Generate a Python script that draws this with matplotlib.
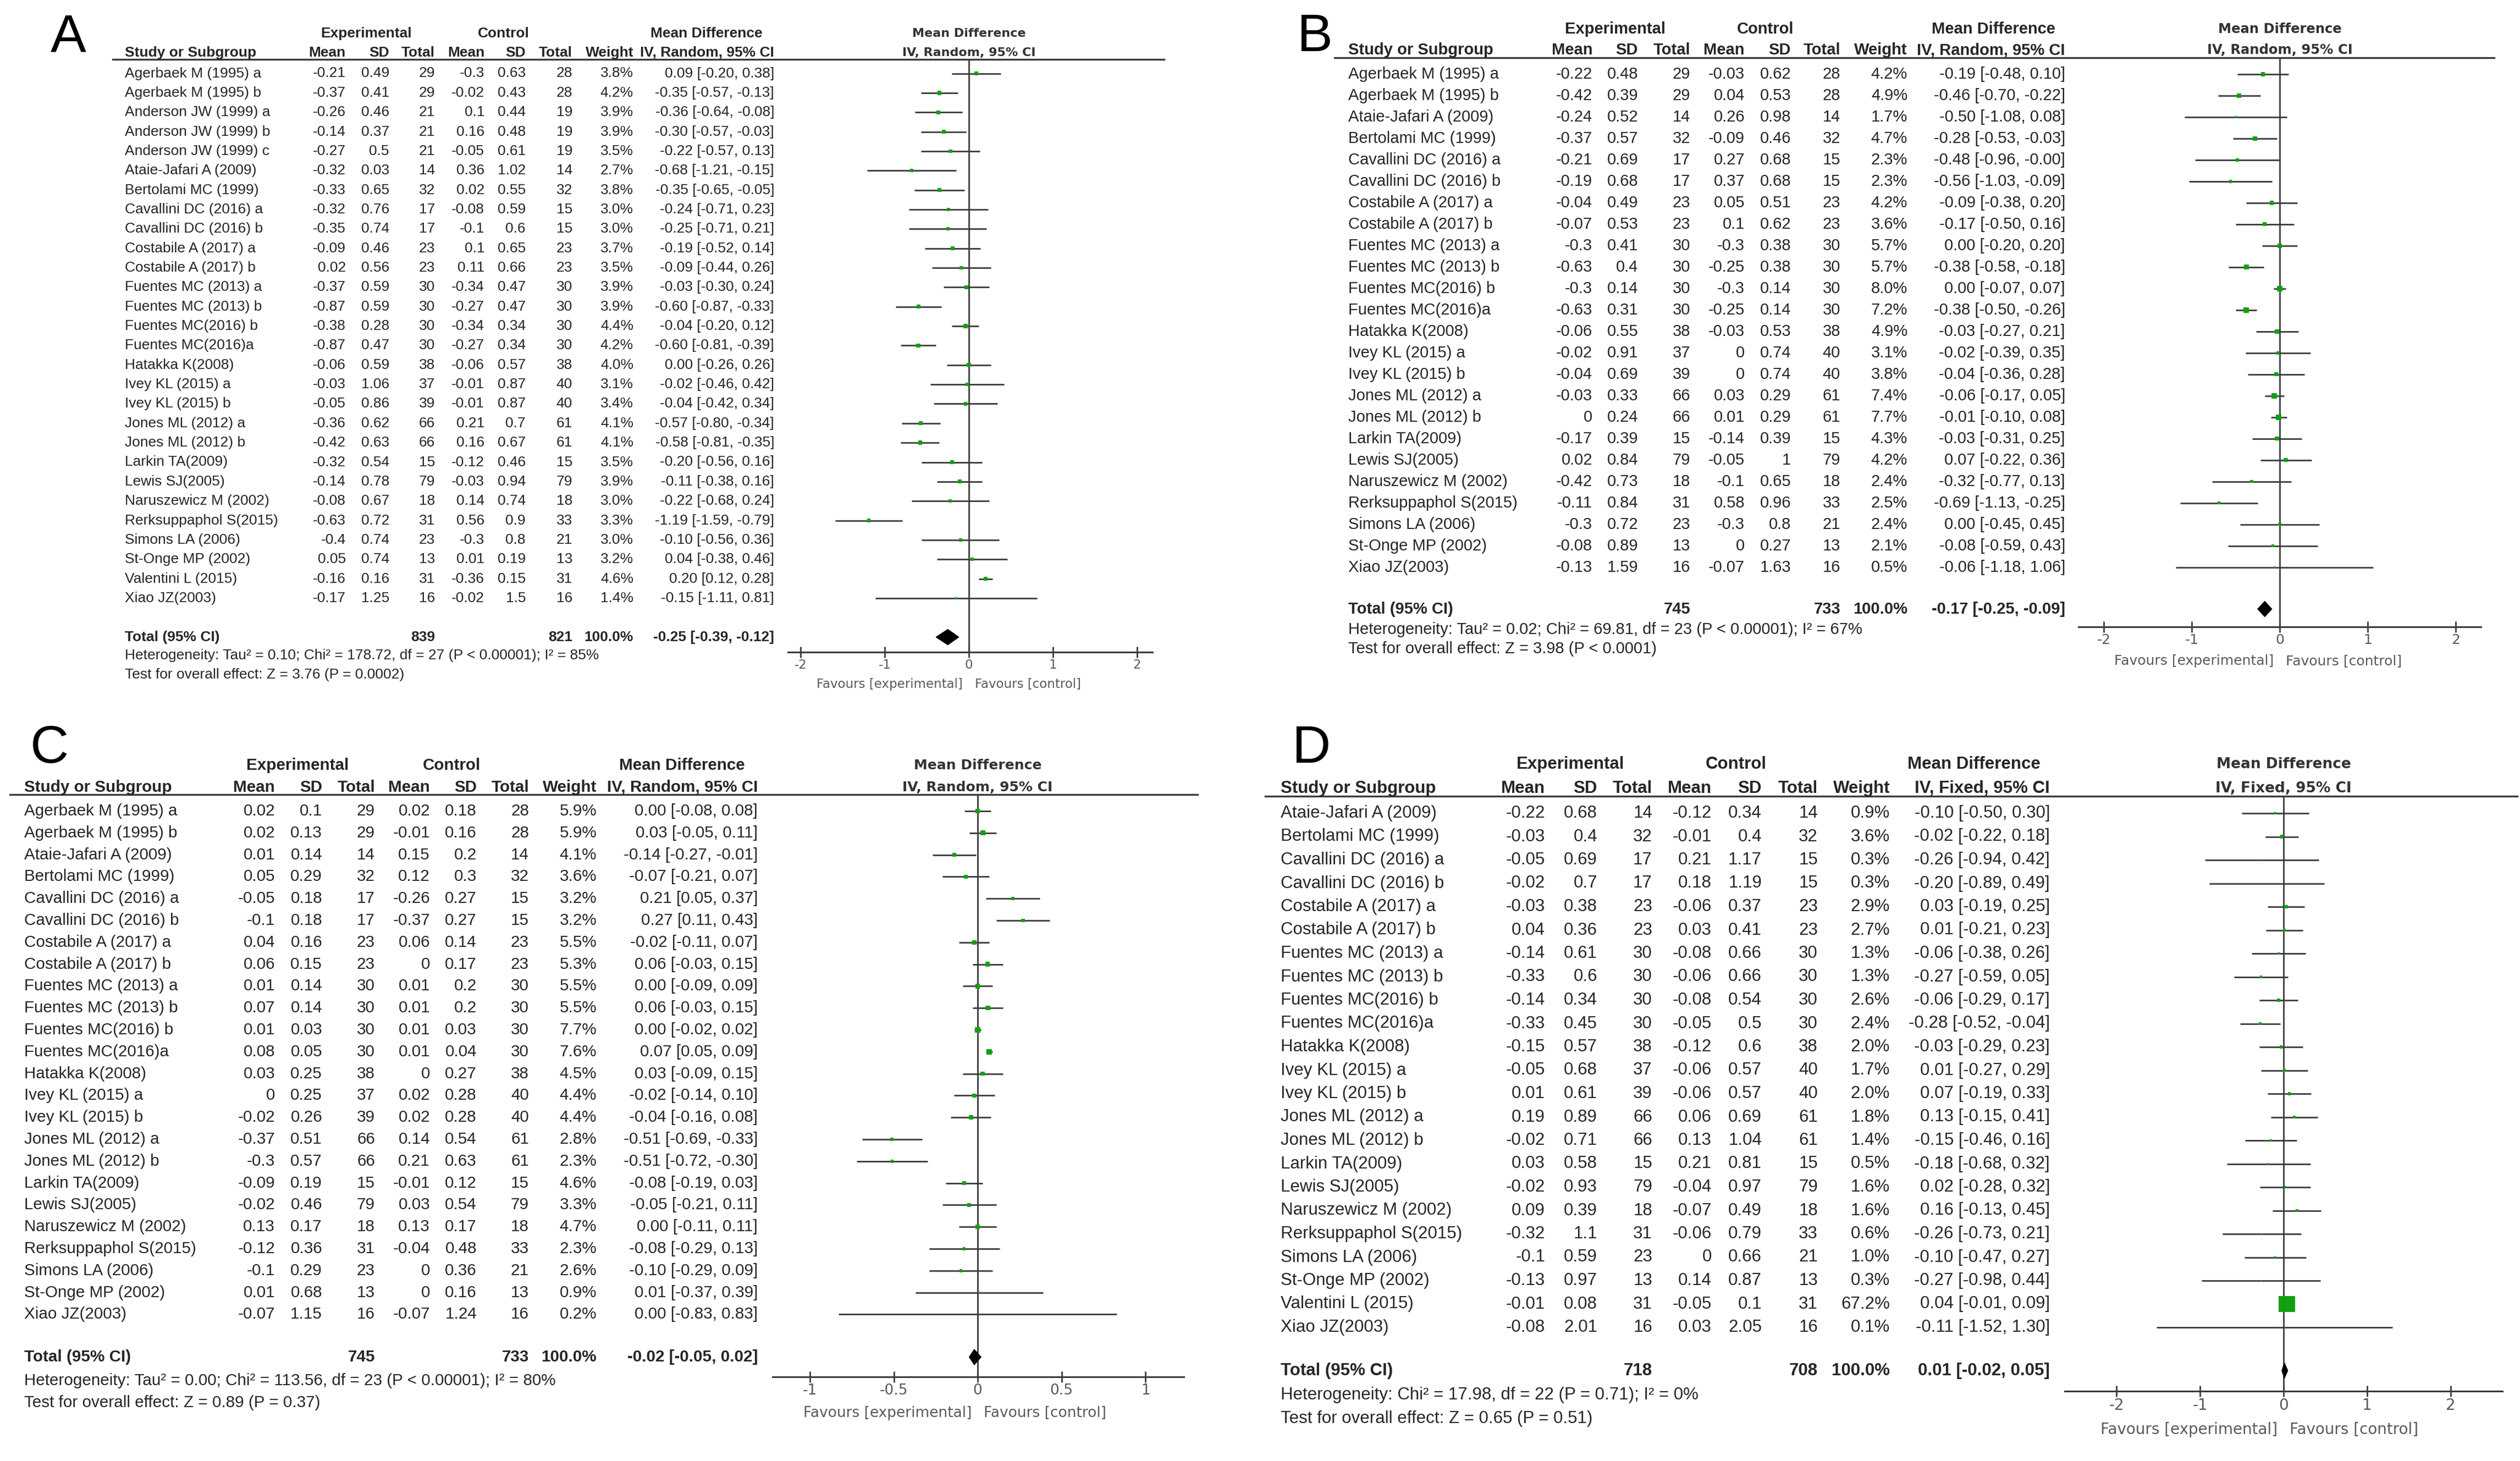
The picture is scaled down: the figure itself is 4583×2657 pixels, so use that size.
import matplotlib
matplotlib.use('Agg')
import matplotlib.pyplot as plt
from matplotlib.lines import Line2D
from matplotlib.patches import Polygon
from matplotlib.transforms import blended_transform_factory
import numpy as np

W, H = 4583, 2657
DPI = 100

# ------------------------------------------------------------------ data
# Panel A
a_studies = ["Agerbaek M (1995) a", "Agerbaek M (1995) b", "Anderson JW (1999) a", "Anderson JW (1999) b",
             "Anderson JW (1999) c", "Ataie-Jafari A (2009)", "Bertolami MC (1999)", "Cavallini DC (2016) a",
             "Cavallini DC (2016) b", "Costabile A (2017) a", "Costabile A (2017) b", "Fuentes MC (2013) a",
             "Fuentes MC (2013) b", "Fuentes MC(2016) b", "Fuentes MC(2016)a", "Hatakka K(2008)",
             "Ivey KL (2015) a", "Ivey KL (2015) b", "Jones ML (2012) a", "Jones ML (2012) b",
             "Larkin TA(2009)", "Lewis SJ(2005)", "Naruszewicz M (2002)", "Rerksuppaphol S(2015)",
             "Simons LA (2006)", "St-Onge MP (2002)", "Valentini L (2015)", "Xiao JZ(2003)"]
a_exp_mean = [-0.21, -0.37, -0.26, -0.14, -0.27, -0.32, -0.33, -0.32, -0.35, -0.09, 0.02, -0.37, -0.87, -0.38,
              -0.87, -0.06, -0.03, -0.05, -0.36, -0.42, -0.32, -0.14, -0.08, -0.63, -0.4, 0.05, -0.16, -0.17]
a_exp_sd = [0.49, 0.41, 0.46, 0.37, 0.5, 0.03, 0.65, 0.76, 0.74, 0.46, 0.56, 0.59, 0.59, 0.28,
            0.47, 0.59, 1.06, 0.86, 0.62, 0.63, 0.54, 0.78, 0.67, 0.72, 0.74, 0.74, 0.16, 1.25]
a_exp_n = [29, 29, 21, 21, 21, 14, 32, 17, 17, 23, 23, 30, 30, 30, 30, 38, 37, 39, 66, 66, 15, 79, 18, 31, 23, 13, 31, 16]
a_ctl_mean = [-0.3, -0.02, 0.1, 0.16, -0.05, 0.36, 0.02, -0.08, -0.1, 0.1, 0.11, -0.34, -0.27, -0.34,
              -0.27, -0.06, -0.01, -0.01, 0.21, 0.16, -0.12, -0.03, 0.14, 0.56, -0.3, 0.01, -0.36, -0.02]
a_ctl_sd = [0.63, 0.43, 0.44, 0.48, 0.61, 1.02, 0.55, 0.59, 0.6, 0.65, 0.66, 0.47, 0.47, 0.34,
            0.34, 0.57, 0.87, 0.87, 0.7, 0.67, 0.46, 0.94, 0.74, 0.9, 0.8, 0.19, 0.15, 1.5]
a_ctl_n = [28, 28, 19, 19, 19, 14, 32, 15, 15, 23, 23, 30, 30, 30, 30, 38, 40, 40, 61, 61, 15, 79, 18, 33, 21, 13, 31, 16]
a_weight = [3.8, 4.2, 3.9, 3.9, 3.5, 2.7, 3.8, 3.0, 3.0, 3.7, 3.5, 3.9, 3.9, 4.4, 4.2, 4.0, 3.1, 3.4, 4.1, 4.1,
            3.5, 3.9, 3.0, 3.3, 3.0, 3.2, 4.6, 1.4]
a_md = [0.09, -0.35, -0.36, -0.30, -0.22, -0.68, -0.35, -0.24, -0.25, -0.19, -0.09, -0.03, -0.60, -0.04,
        -0.60, 0.00, -0.02, -0.04, -0.57, -0.58, -0.20, -0.11, -0.22, -1.19, -0.10, 0.04, 0.20, -0.15]
a_lo = [-0.20, -0.57, -0.64, -0.57, -0.57, -1.21, -0.65, -0.71, -0.71, -0.52, -0.44, -0.30, -0.87, -0.20,
        -0.81, -0.26, -0.46, -0.42, -0.80, -0.81, -0.56, -0.38, -0.68, -1.59, -0.56, -0.38, 0.12, -1.11]
a_hi = [0.38, -0.13, -0.08, -0.03, 0.13, -0.15, -0.05, 0.23, 0.21, 0.14, 0.26, 0.24, -0.33, 0.12,
        -0.39, 0.26, 0.42, 0.34, -0.34, -0.35, 0.16, 0.16, 0.24, -0.79, 0.36, 0.46, 0.28, 0.81]
a_total = [839, 821, -0.25, -0.39, -0.12]
a_het = "Heterogeneity: Tau² = 0.10; Chi² = 178.72, df = 27 (P < 0.00001); I² = 85%"
a_test = "Test for overall effect: Z = 3.76 (P = 0.0002)"

# Panel B
b_studies = ["Agerbaek M (1995) a", "Agerbaek M (1995) b", "Ataie-Jafari A (2009)", "Bertolami MC (1999)",
             "Cavallini DC (2016) a", "Cavallini DC (2016) b", "Costabile A (2017) a", "Costabile A (2017) b",
             "Fuentes MC (2013) a", "Fuentes MC (2013) b", "Fuentes MC(2016) b", "Fuentes MC(2016)a",
             "Hatakka K(2008)", "Ivey KL (2015) a", "Ivey KL (2015) b", "Jones ML (2012) a", "Jones ML (2012) b",
             "Larkin TA(2009)", "Lewis SJ(2005)", "Naruszewicz M (2002)", "Rerksuppaphol S(2015)",
             "Simons LA (2006)", "St-Onge MP (2002)", "Xiao JZ(2003)"]
b_exp_mean = [-0.22, -0.42, -0.24, -0.37, -0.21, -0.19, -0.04, -0.07, -0.3, -0.63, -0.3, -0.63,
              -0.06, -0.02, -0.04, -0.03, 0, -0.17, 0.02, -0.42, -0.11, -0.3, -0.08, -0.13]
b_exp_sd = [0.48, 0.39, 0.52, 0.57, 0.69, 0.68, 0.49, 0.53, 0.41, 0.4, 0.14, 0.31,
            0.55, 0.91, 0.69, 0.33, 0.24, 0.39, 0.84, 0.73, 0.84, 0.72, 0.89, 1.59]
b_exp_n = [29, 29, 14, 32, 17, 17, 23, 23, 30, 30, 30, 30, 38, 37, 39, 66, 66, 15, 79, 18, 31, 23, 13, 16]
b_ctl_mean = [-0.03, 0.04, 0.26, -0.09, 0.27, 0.37, 0.05, 0.1, -0.3, -0.25, -0.3, -0.25,
              -0.03, 0, 0, 0.03, 0.01, -0.14, -0.05, -0.1, 0.58, -0.3, 0, -0.07]
b_ctl_sd = [0.62, 0.53, 0.98, 0.46, 0.68, 0.68, 0.51, 0.62, 0.38, 0.38, 0.14, 0.14,
            0.53, 0.74, 0.74, 0.29, 0.29, 0.39, 1, 0.65, 0.96, 0.8, 0.27, 1.63]
b_ctl_n = [28, 28, 14, 32, 15, 15, 23, 23, 30, 30, 30, 30, 38, 40, 40, 61, 61, 15, 79, 18, 33, 21, 13, 16]
b_weight = [4.2, 4.9, 1.7, 4.7, 2.3, 2.3, 4.2, 3.6, 5.7, 5.7, 8.0, 7.2, 4.9, 3.1, 3.8, 7.4, 7.7, 4.3, 4.2,
            2.4, 2.5, 2.4, 2.1, 0.5]
b_md = [-0.19, -0.46, -0.50, -0.28, -0.48, -0.56, -0.09, -0.17, 0.00, -0.38, 0.00, -0.38,
        -0.03, -0.02, -0.04, -0.06, -0.01, -0.03, 0.07, -0.32, -0.69, 0.00, -0.08, -0.06]
b_lo = [-0.48, -0.70, -1.08, -0.53, -0.96, -1.03, -0.38, -0.50, -0.20, -0.58, -0.07, -0.50,
        -0.27, -0.39, -0.36, -0.17, -0.10, -0.31, -0.22, -0.77, -1.13, -0.45, -0.59, -1.18]
b_hi = [0.10, -0.22, 0.08, -0.03, -0.0, -0.09, 0.20, 0.16, 0.20, -0.18, 0.07, -0.26,
        0.21, 0.35, 0.28, 0.05, 0.08, 0.25, 0.36, 0.13, -0.25, 0.45, 0.43, 1.06]
b_total = [745, 733, -0.17, -0.25, -0.09]
b_het = "Heterogeneity: Tau² = 0.02; Chi² = 69.81, df = 23 (P < 0.00001); I² = 67%"
b_test = "Test for overall effect: Z = 3.98 (P < 0.0001)"

# Panel C
c_studies = list(b_studies)
c_exp_mean = [0.02, 0.02, 0.01, 0.05, -0.05, -0.1, 0.04, 0.06, 0.01, 0.07, 0.01, 0.08,
              0.03, 0, -0.02, -0.37, -0.3, -0.09, -0.02, 0.13, -0.12, -0.1, 0.01, -0.07]
c_exp_sd = [0.1, 0.13, 0.14, 0.29, 0.18, 0.18, 0.16, 0.15, 0.14, 0.14, 0.03, 0.05,
            0.25, 0.25, 0.26, 0.51, 0.57, 0.19, 0.46, 0.17, 0.36, 0.29, 0.68, 1.15]
c_exp_n = [29, 29, 14, 32, 17, 17, 23, 23, 30, 30, 30, 30, 38, 37, 39, 66, 66, 15, 79, 18, 31, 23, 13, 16]
c_ctl_mean = [0.02, -0.01, 0.15, 0.12, -0.26, -0.37, 0.06, 0, 0.01, 0.01, 0.01, 0.01,
              0, 0.02, 0.02, 0.14, 0.21, -0.01, 0.03, 0.13, -0.04, 0, 0, -0.07]
c_ctl_sd = [0.18, 0.16, 0.2, 0.3, 0.27, 0.27, 0.14, 0.17, 0.2, 0.2, 0.03, 0.04,
            0.27, 0.28, 0.28, 0.54, 0.63, 0.12, 0.54, 0.17, 0.48, 0.36, 0.16, 1.24]
c_ctl_n = [28, 28, 14, 32, 15, 15, 23, 23, 30, 30, 30, 30, 38, 40, 40, 61, 61, 15, 79, 18, 33, 21, 13, 16]
c_weight = [5.9, 5.9, 4.1, 3.6, 3.2, 3.2, 5.5, 5.3, 5.5, 5.5, 7.7, 7.6, 4.5, 4.4, 4.4, 2.8, 2.3, 4.6, 3.3,
            4.7, 2.3, 2.6, 0.9, 0.2]
c_md = [0.00, 0.03, -0.14, -0.07, 0.21, 0.27, -0.02, 0.06, 0.00, 0.06, 0.00, 0.07,
        0.03, -0.02, -0.04, -0.51, -0.51, -0.08, -0.05, 0.00, -0.08, -0.10, 0.01, 0.00]
c_lo = [-0.08, -0.05, -0.27, -0.21, 0.05, 0.11, -0.11, -0.03, -0.09, -0.03, -0.02, 0.05,
        -0.09, -0.14, -0.16, -0.69, -0.72, -0.19, -0.21, -0.11, -0.29, -0.29, -0.37, -0.83]
c_hi = [0.08, 0.11, -0.01, 0.07, 0.37, 0.43, 0.07, 0.15, 0.09, 0.15, 0.02, 0.09,
        0.15, 0.10, 0.08, -0.33, -0.30, 0.03, 0.11, 0.11, 0.13, 0.09, 0.39, 0.83]
c_total = [745, 733, -0.02, -0.05, 0.02]
c_het = "Heterogeneity: Tau² = 0.00; Chi² = 113.56, df = 23 (P < 0.00001); I² = 80%"
c_test = "Test for overall effect: Z = 0.89 (P = 0.37)"

# Panel D
d_studies = ["Ataie-Jafari A (2009)", "Bertolami MC (1999)", "Cavallini DC (2016) a", "Cavallini DC (2016) b",
             "Costabile A (2017) a", "Costabile A (2017) b", "Fuentes MC (2013) a", "Fuentes MC (2013) b",
             "Fuentes MC(2016) b", "Fuentes MC(2016)a", "Hatakka K(2008)", "Ivey KL (2015) a",
             "Ivey KL (2015) b", "Jones ML (2012) a", "Jones ML (2012) b", "Larkin TA(2009)", "Lewis SJ(2005)",
             "Naruszewicz M (2002)", "Rerksuppaphol S(2015)", "Simons LA (2006)", "St-Onge MP (2002)",
             "Valentini L (2015)", "Xiao JZ(2003)"]
d_exp_mean = [-0.22, -0.03, -0.05, -0.02, -0.03, 0.04, -0.14, -0.33, -0.14, -0.33, -0.15, -0.05,
              0.01, 0.19, -0.02, 0.03, -0.02, 0.09, -0.32, -0.1, -0.13, -0.01, -0.08]
d_exp_sd = [0.68, 0.4, 0.69, 0.7, 0.38, 0.36, 0.61, 0.6, 0.34, 0.45, 0.57, 0.68,
            0.61, 0.89, 0.71, 0.58, 0.93, 0.39, 1.1, 0.59, 0.97, 0.08, 2.01]
d_exp_n = [14, 32, 17, 17, 23, 23, 30, 30, 30, 30, 38, 37, 39, 66, 66, 15, 79, 18, 31, 23, 13, 31, 16]
d_ctl_mean = [-0.12, -0.01, 0.21, 0.18, -0.06, 0.03, -0.08, -0.06, -0.08, -0.05, -0.12, -0.06,
              -0.06, 0.06, 0.13, 0.21, -0.04, -0.07, -0.06, 0, 0.14, -0.05, 0.03]
d_ctl_sd = [0.34, 0.4, 1.17, 1.19, 0.37, 0.41, 0.66, 0.66, 0.54, 0.5, 0.6, 0.57,
            0.57, 0.69, 1.04, 0.81, 0.97, 0.49, 0.79, 0.66, 0.87, 0.1, 2.05]
d_ctl_n = [14, 32, 15, 15, 23, 23, 30, 30, 30, 30, 38, 40, 40, 61, 61, 15, 79, 18, 33, 21, 13, 31, 16]
d_weight = [0.9, 3.6, 0.3, 0.3, 2.9, 2.7, 1.3, 1.3, 2.6, 2.4, 2.0, 1.7, 2.0, 1.8, 1.4, 0.5, 1.6, 1.6,
            0.6, 1.0, 0.3, 67.2, 0.1]
d_md = [-0.10, -0.02, -0.26, -0.20, 0.03, 0.01, -0.06, -0.27, -0.06, -0.28, -0.03, 0.01,
        0.07, 0.13, -0.15, -0.18, 0.02, 0.16, -0.26, -0.10, -0.27, 0.04, -0.11]
d_lo = [-0.50, -0.22, -0.94, -0.89, -0.19, -0.21, -0.38, -0.59, -0.29, -0.52, -0.29, -0.27,
        -0.19, -0.15, -0.46, -0.68, -0.28, -0.13, -0.73, -0.47, -0.98, -0.01, -1.52]
d_hi = [0.30, 0.18, 0.42, 0.49, 0.25, 0.23, 0.26, 0.05, 0.17, -0.04, 0.23, 0.29,
        0.33, 0.41, 0.16, 0.32, 0.32, 0.45, 0.21, 0.27, 0.44, 0.09, 1.30]
d_total = [718, 708, 0.01, -0.02, 0.05]
d_het = "Heterogeneity: Chi² = 17.98, df = 22 (P = 0.71); I² = 0%"
d_test = "Test for overall effect: Z = 0.65 (P = 0.51)"

ticks_2 = [-2, -1, 0, 1, 2]
ticklabels_2 = ["-2", "-1", "0", "1", "2"]
ticks_1 = [-1, -0.5, 0, 0.5, 1]
ticklabels_1 = ["-1", "-0.5", "0", "0.5", "1"]

# ------------------------------------------------------------------ layout (pixels)
LAY = {
    'A': dict(letter=(92, 68), group_y=61, col_y=96, exp_c=666, ctl_c=916, mdh_c=1285, study_x=227,
              cols=[629, 708, 791, 881, 956, 1041, 1152, 1408], row0=133.5, sp=35.35, total_row=29,
              het_y=1192, test_y=1227, hline=(205, 2117, 108), axis_y=1186, ax_l=1433, ax_r=2096,
              x0=1762, unit=153, fs=19, ffs=16, tfs=16.5, fav_y=1244, method="IV, Random, 95% CI"),
    'B': dict(letter=(2359, 68), group_y=53, col_y=91, exp_c=2938, ctl_c=3210, mdh_c=3625, study_x=2452,
              cols=[2896, 2979, 3074, 3173, 3257, 3347, 3469, 3756], row0=135, sp=38.98, total_row=24.95,
              het_y=1145, test_y=1180, hline=(2427, 4536, 105), axis_y=1140, ax_l=3780, ax_r=4512,
              x0=4146, unit=160, fs=21, ffs=17.5, tfs=18, fav_y=1202, method="IV, Random, 95% CI"),
    'C': dict(letter=(55, 1362), group_y=1392, col_y=1432, exp_c=541, ctl_c=821, mdh_c=1240, study_x=44,
              cols=[500, 586, 682, 782, 867, 962, 1085, 1378], row0=1475, sp=39.8, total_row=24.95,
              het_y=2511, test_y=2551, hline=(18, 2178, 1445), axis_y=2504, ax_l=1405, ax_r=2153,
              x0=1778, unit=305, fs=21.3, ffs=18, tfs=19, fav_y=2570, method="IV, Random, 95% CI"),
    'D': dict(letter=(2350, 1362), group_y=1390, col_y=1434, exp_c=2856, ctl_c=3157, mdh_c=3590, study_x=2329,
              cols=[2810, 2905, 3005, 3113, 3204, 3306, 3437, 3728], row0=1479, sp=42.5, total_row=23.85,
              het_y=2537, test_y=2580, hline=(2301, 4578, 1448), axis_y=2530, ax_l=3755, ax_r=4551,
              x0=4153, unit=152, fs=22.5, ffs=19, tfs=20, fav_y=2600, method="IV, Fixed, 95% CI"),
}

TXT = '#262626'
HDR = '#333333'
LINE = '#3a3a3a'
GRAY = '#5a5a5a'
GREEN = '#12a012'
TFONT = ['Liberation Sans', 'DejaVu Sans']
FFONT = ['DejaVu Sans']


def fx(px):
    return px / W


def fy(py):
    return 1 - py / H


def g(v):
    return f"{v:g}"


def draw_panel(fig, key, studies, em, esd, en, cm, csd, cn, wt, md, lo, hi, total, het, test, ticks, ticklabels):
    L = LAY[key]
    n = len(studies)
    sp, r0 = L['sp'], L['row0']
    hx1, hx2, hy = L['hline']
    top_row = (hy - r0) / sp
    bot_row = (L['axis_y'] - r0) / sp

    ax = fig.add_axes([fx(L['ax_l']), fy(L['axis_y']), (L['ax_r'] - L['ax_l']) / W, (L['axis_y'] - hy) / H])
    ax.patch.set_alpha(0)
    ax.set_xlim((L['ax_l'] - L['x0']) / L['unit'], (L['ax_r'] - L['x0']) / L['unit'])
    ax.set_ylim(bot_row, top_row)
    for s in ['top', 'left', 'right']:
        ax.spines[s].set_visible(False)
    ax.spines['bottom'].set_color(LINE)
    ax.spines['bottom'].set_linewidth(2.2)
    ax.set_yticks([])
    ax.set_xticks(ticks, ticklabels)
    ax.tick_params(axis='x', direction='inout', length=15, width=2.0, color=LINE,
                   labelsize=L['tfs'], labelcolor=GRAY, pad=1)

    rows = np.arange(n)
    ax.axvline(0, color=LINE, lw=2.0, zorder=1)
    ax.hlines(rows, lo, hi, color=LINE, lw=2.0, zorder=2)
    ax.scatter(md, rows, s=np.array(wt) * 6.8, marker='s', color=GREEN, linewidths=0, zorder=3)

    # total diamond
    tr = L['total_row']
    h = 14.0 / sp
    tmd, tlo, thi = total[2], total[3], total[4]
    ax.add_patch(Polygon([(tlo, tr), (tmd, tr - h), (thi, tr), (tmd, tr + h)], closed=True,
                         facecolor='black', edgecolor='black', lw=1, zorder=4))

    # header line
    fig.add_artist(Line2D([fx(hx1), fx(hx2)], [fy(hy), fy(hy)], transform=fig.transFigure,
                          color=LINE, lw=2.4))

    # panel letter
    lx, ly = L['letter']
    fig.text(fx(lx), fy(ly), key, fontsize=70, family=TFONT, color='black', ha='left', va='center')

    fs = L['fs']
    kw = dict(fontsize=fs, family=TFONT, color=TXT, va='center')
    kwb = dict(fontsize=fs, family=TFONT, color=TXT, va='center', fontweight='bold')
    cols = L['cols']

    # table headers
    fig.text(fx(L['exp_c']), fy(L['group_y']), "Experimental", ha='center', **kwb)
    fig.text(fx(L['ctl_c']), fy(L['group_y']), "Control", ha='center', **kwb)
    fig.text(fx(L['mdh_c']), fy(L['group_y']), "Mean Difference", ha='center', **kwb)
    fig.text(fx(L['study_x']), fy(L['col_y']), "Study or Subgroup", ha='left', **kwb)
    for x, s in zip(cols, ["Mean", "SD", "Total", "Mean", "SD", "Total", "Weight", L['method']]):
        fig.text(fx(x), fy(L['col_y']), s, ha='right', **kwb)

    # forest headers
    fkw = dict(fontsize=L['ffs'], family=FFONT, color=HDR, fontweight='bold', ha='center', va='center')
    fig.text(fx(L['x0']), fy(L['group_y']), "Mean Difference", **fkw)
    fig.text(fx(L['x0']), fy(L['col_y']), L['method'], **fkw)

    # table body
    trans = blended_transform_factory(fig.transFigure, ax.transData)
    for i in range(n):
        vals = [g(em[i]), g(esd[i]), str(en[i]), g(cm[i]), g(csd[i]), str(cn[i]), f"{wt[i]:.1f}%",
                f"{md[i]:.2f} [{lo[i]:.2f}, {hi[i]:.2f}]"]
        ax.text(fx(L['study_x']), i, studies[i], transform=trans, ha='left', **kw)
        for x, s in zip(cols, vals):
            ax.text(fx(x), i, s, transform=trans, ha='right', **kw)

    # total row
    ax.text(fx(L['study_x']), tr, "Total (95% CI)", transform=trans, ha='left', **kwb)
    ax.text(fx(cols[2]), tr, str(total[0]), transform=trans, ha='right', **kwb)
    ax.text(fx(cols[5]), tr, str(total[1]), transform=trans, ha='right', **kwb)
    ax.text(fx(cols[6]), tr, "100.0%", transform=trans, ha='right', **kwb)
    ax.text(fx(cols[7]), tr, f"{tmd:.2f} [{tlo:.2f}, {thi:.2f}]", transform=trans, ha='right', **kwb)

    fig.text(fx(L['study_x']), fy(L['het_y']), het, ha='left', **kw)
    fig.text(fx(L['study_x']), fy(L['test_y']), test, ha='left', **kw)

    # favours labels
    btr = blended_transform_factory(ax.transData, fig.transFigure)
    fav = dict(fontsize=L['tfs'], family=FFONT, color=GRAY, va='center', xycoords=btr,
               textcoords='offset points')
    ax.annotate("Favours [experimental]", xy=(0, fy(L['fav_y'])), xytext=(-8, 0), ha='right', **fav)
    ax.annotate("Favours [control]", xy=(0, fy(L['fav_y'])), xytext=(8, 0), ha='left', **fav)
    return ax


fig = plt.figure(figsize=(W / DPI, H / DPI), dpi=DPI)
fig.patch.set_facecolor('white')

draw_panel(fig, 'A', a_studies, a_exp_mean, a_exp_sd, a_exp_n, a_ctl_mean, a_ctl_sd, a_ctl_n,
           a_weight, a_md, a_lo, a_hi, a_total, a_het, a_test, ticks_2, ticklabels_2)
draw_panel(fig, 'B', b_studies, b_exp_mean, b_exp_sd, b_exp_n, b_ctl_mean, b_ctl_sd, b_ctl_n,
           b_weight, b_md, b_lo, b_hi, b_total, b_het, b_test, ticks_2, ticklabels_2)
draw_panel(fig, 'C', c_studies, c_exp_mean, c_exp_sd, c_exp_n, c_ctl_mean, c_ctl_sd, c_ctl_n,
           c_weight, c_md, c_lo, c_hi, c_total, c_het, c_test, ticks_1, ticklabels_1)
draw_panel(fig, 'D', d_studies, d_exp_mean, d_exp_sd, d_exp_n, d_ctl_mean, d_ctl_sd, d_ctl_n,
           d_weight, d_md, d_lo, d_hi, d_total, d_het, d_test, ticks_2, ticklabels_2)

fig.savefig('out.png', dpi=DPI, facecolor='white')
